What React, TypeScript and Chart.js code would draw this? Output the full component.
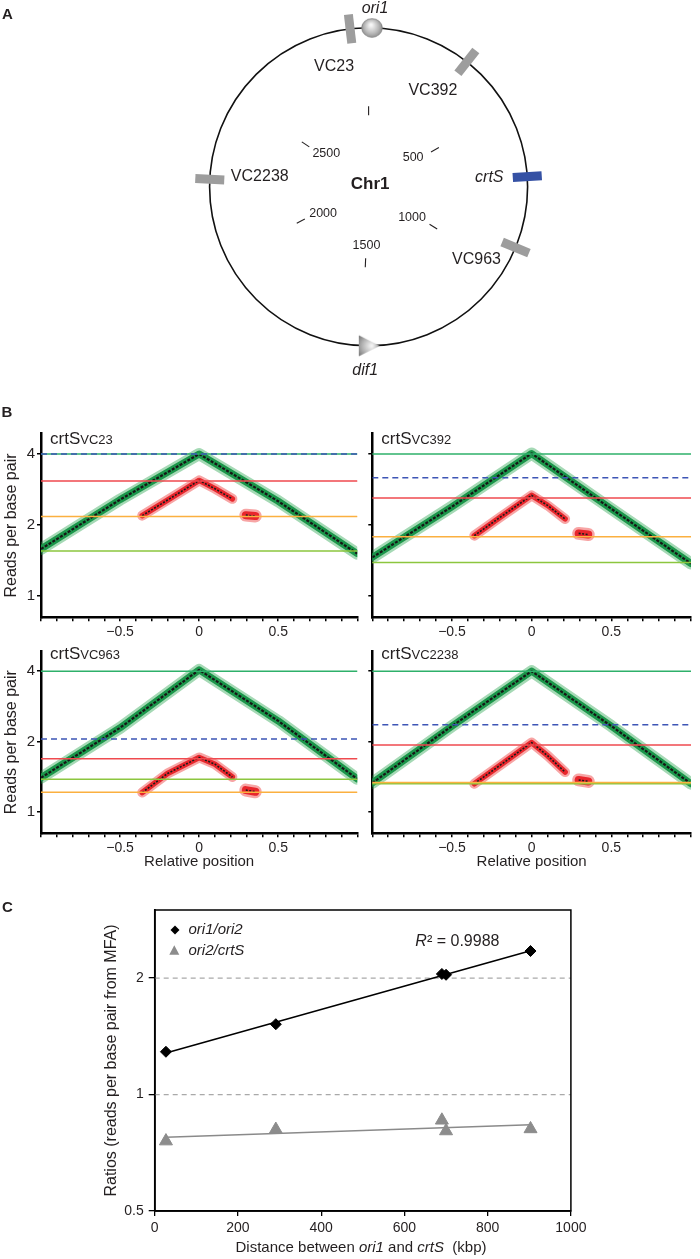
import React, { useEffect, useRef } from "react";
import { Chart, registerables } from "chart.js";

Chart.register(...registerables);

const FONT = "'Liberation Sans', Arial, Helvetica, sans-serif";
const INK = "#231f20";
Chart.defaults.font.family = FONT;
Chart.defaults.color = INK;

/* ================= Panel A: chromosome 1 map (data) ================= */
const genomeLengthKb = 2961;
const featureNames = ["VC23", "VC392", "crtS", "VC963", "VC2238"];
const featurePositionsKb = [2906, 314, 710, 925, 2243];
const ori1PositionKb = 10;
const dif1PositionKb = 1480;
const mapTickPositionsKb = [0, 500, 1000, 1500, 2000, 2500];
const mapTickLabels = ["", "500", "1000", "1500", "2000", "2500"];

/* ================= Panel B: marker frequency profiles (data) ================= */
const subplotNames = ["VC23", "VC392", "VC963", "VC2238"];
const relPositions = [-1, -0.5, 0, 0.5, 1];
const greenVC23 = [1.58, 2.56, 4.0, 2.52, 1.51];
const greenVC392 = [1.455, 2.39, 4.02, 2.34, 1.37];
const greenVC963 = [1.4, 2.29, 4.05, 2.45, 1.385];
const greenVC2238 = [1.33, 2.33, 4.0, 2.33, 1.32];
const redPositions = [-0.36, -0.2, 0, 0.1, 0.21];
const redVC23 = [2.19, 2.55, 3.09, 2.85, 2.58];
const redVC392 = [1.8, 2.15, 2.67, 2.42, 2.12];
const redVC963 = [1.21, 1.46, 1.71, 1.6, 1.41];
const redVC2238 = [1.32, 1.58, 1.98, 1.74, 1.48];
const redClusterPositions = [0.295, 0.355];
const redClusterVC23 = [2.2, 2.18];
const redClusterVC392 = [1.84, 1.82];
const redClusterVC963 = [1.24, 1.22];
const redClusterVC2238 = [1.37, 1.35];
const levelGreen = [4, 4, 4, 4];
const levelBlue = [4, 3.17, 2.05, 2.36];
const levelRed = [3.07, 2.6, 1.69, 1.935];
const levelOrange = [2.17, 1.78, 1.214, 1.335];
const levelLightGreen = [1.55, 1.385, 1.379, 1.32];
const bXTicks = [-1, -0.9, -0.8, -0.7, -0.6, -0.5, -0.4, -0.3, -0.2, -0.1, 0, 0.1, 0.2, 0.3, 0.4, 0.5, 0.6, 0.7, 0.8, 0.9, 1];
const bXLabelValues = [-0.5, 0, 0.5];
const bXLabelTexts = ["\u22120.5", "0", "0.5"];
const bYTicks = [1, 2, 4];

/* ================= Panel C: ratios vs distance (data) ================= */
const distanceKb = [27, 291, 690, 700, 903];
const ratioOri1Ori2 = [1.29, 1.52, 2.05, 2.04, 2.35];
const ratioOri2CrtS = [0.758, 0.812, 0.858, 0.805, 0.815];
const cXTicks = [0, 200, 400, 600, 800, 1000];
const cYTicks = [0.5, 1, 2];
const cYTickLabels = ["0.5", "1", "2"];
const cGuideLevels = [1, 2];
const rSquaredText = "0.9988";

/* ================= layout / style (not data) ================= */
const MAP = { width: 700, height: 395, cx: 368.6, cy: 186.8, r: 159 };
const innerTickRadius = 0.478;
const tickLabelRadiusX = 51 / 159;
const tickLabelRadiusY = 59 / 159;
const featureLabelOffsets = [[-16, 38], [-34, 29], [-38, 0.5], [-39, 12.5], [50, -2.5]];
const featureItalic = [false, false, true, false, false];
const featureColors = ["#9d9d9d", "#9d9d9d", "#3551a4", "#9d9d9d", "#9d9d9d"];

const profileGeom = [
  { left: 0, top: 400, width: 365, height: 240, aL: 41, aT: 433.7, aR: 357.3, aB: 617.3 },
  { left: 365, top: 400, width: 335, height: 240, aL: 372.3, aT: 433.7, aR: 691, aB: 617.3 },
  { left: 0, top: 640, width: 365, height: 235, aL: 41, aT: 649.7, aR: 357.3, aB: 833.3 },
  { left: 365, top: 640, width: 335, height: 235, aL: 372.3, aT: 649.7, aR: 691, aB: 833.3 },
];
const greenSeries = [greenVC23, greenVC392, greenVC963, greenVC2238];
const redSeries = [redVC23, redVC392, redVC963, redVC2238];
const redClusterSeries = [redClusterVC23, redClusterVC392, redClusterVC963, redClusterVC2238];

const C_GEOM = { left: 0, top: 895, width: 700, height: 364, aL: 154.7, aT: 910, aR: 570.9, aB: 1211 };

/* ================= helpers ================= */
function makeBar(color: string) {
  const c = document.createElement("canvas");
  c.width = 9;
  c.height = 29;
  const g = c.getContext("2d")!;
  g.fillStyle = color;
  g.fillRect(0, 0, 9, 29);
  return c;
}
function makeSphere() {
  const c = document.createElement("canvas");
  c.width = 22;
  c.height = 20;
  const g = c.getContext("2d")!;
  const grad = g.createRadialGradient(10, 7, 1, 11, 10, 12);
  grad.addColorStop(0, "#f6f6f6");
  grad.addColorStop(0.55, "#b9b9b9");
  grad.addColorStop(1, "#7c7c7c");
  g.fillStyle = grad;
  g.beginPath();
  g.ellipse(11, 10, 10.3, 9.3, 0, 0, Math.PI * 2);
  g.fill();
  g.strokeStyle = "#808080";
  g.lineWidth = 0.8;
  g.stroke();
  return c;
}
function makeTriangle() {
  const c = document.createElement("canvas");
  c.width = 24;
  c.height = 24;
  const g = c.getContext("2d")!;
  const grad = g.createRadialGradient(15, 12, 1, 12, 12, 13);
  grad.addColorStop(0, "#f2f2f2");
  grad.addColorStop(0.6, "#b0b0b0");
  grad.addColorStop(1, "#7d7d7d");
  g.fillStyle = grad;
  g.beginPath();
  g.moveTo(2, 1.5);
  g.lineTo(23, 12);
  g.lineTo(2, 22.5);
  g.closePath();
  g.fill();
  return c;
}
function drawParts(ctx: CanvasRenderingContext2D, parts: { t: string; f: string }[], cx: number, y: number) {
  let total = 0;
  for (const p of parts) {
    ctx.font = p.f;
    total += ctx.measureText(p.t).width;
  }
  let x = cx - total / 2;
  ctx.textAlign = "left";
  for (const p of parts) {
    ctx.font = p.f;
    ctx.fillText(p.t, x, y);
    x += ctx.measureText(p.t).width;
  }
}

/* ================= Panel A config ================= */
function makeMapConfig() {
  const { width, height, cx, cy, r } = MAP;
  const angleOf = (kb: number) => (kb / genomeLengthKb) * 360;
  const polar = (kb: number, rad: number) => {
    const t = (angleOf(kb) * Math.PI) / 180;
    return { x: rad * Math.sin(t), y: rad * Math.cos(t) };
  };
  const mapPlugin = {
    id: "mapDecor",
    beforeDatasetsDraw(chart: any) {
      const { ctx, scales } = chart;
      const x0 = scales.x.getPixelForValue(0);
      const y0 = scales.y.getPixelForValue(0);
      const rx = scales.x.getPixelForValue(1) - x0;
      const ry = y0 - scales.y.getPixelForValue(1);
      ctx.save();
      ctx.strokeStyle = "#111";
      ctx.lineWidth = 1.6;
      ctx.beginPath();
      ctx.ellipse(x0, y0, rx, ry, 0, 0, Math.PI * 2);
      ctx.stroke();
      ctx.restore();
    },
    afterDatasetsDraw(chart: any) {
      const { ctx, scales } = chart;
      const px = (p: { x: number; y: number }) => [scales.x.getPixelForValue(p.x), scales.y.getPixelForValue(p.y)];
      ctx.save();
      ctx.fillStyle = INK;
      ctx.textBaseline = "middle";
      ctx.textAlign = "center";
      featureNames.forEach((name, i) => {
        const [x, y] = px(polar(featurePositionsKb[i], 1));
        ctx.font = `${featureItalic[i] ? "italic " : ""}16px ${FONT}`;
        ctx.fillText(name, x + featureLabelOffsets[i][0], y + featureLabelOffsets[i][1]);
      });
      const [ox, oy] = px(polar(ori1PositionKb, 1));
      ctx.font = `italic 16px ${FONT}`;
      ctx.fillText("ori1", ox + 3, oy - 19.5);
      const [dx, dy] = px(polar(dif1PositionKb, 1));
      ctx.fillText("dif1", dx - 3.5, dy + 24.5);
      const [cx0, cy0] = px({ x: 0, y: 0 });
      ctx.font = `bold 17px ${FONT}`;
      ctx.fillText("Chr1", cx0 + 1.5, cy0 - 2.5);
      ctx.font = `12.5px ${FONT}`;
      mapTickPositionsKb.forEach((kb, i) => {
        if (!mapTickLabels[i]) return;
        const t = (angleOf(kb) * Math.PI) / 180;
        const [lx, ly] = px({ x: tickLabelRadiusX * Math.sin(t), y: tickLabelRadiusY * Math.cos(t) });
        ctx.fillText(mapTickLabels[i], lx, ly);
      });
      ctx.font = `bold 15px ${FONT}`;
      ctx.textAlign = "left";
      ctx.textBaseline = "alphabetic";
      ctx.fillText("A", 2, 18.5);
      ctx.restore();
    },
  };
  return {
    type: "scatter",
    data: {
      datasets: [
        {
          data: mapTickPositionsKb.map((kb) => polar(kb, innerTickRadius)),
          pointStyle: "line",
          pointRadius: 4.5,
          pointBorderWidth: 1.1,
          pointBorderColor: INK,
          pointRotation: mapTickPositionsKb.map((kb) => angleOf(kb) - 90),
          order: 3,
        },
        {
          data: featurePositionsKb.map((kb) => polar(kb, 1)),
          pointStyle: featureColors.map((c) => makeBar(c)),
          pointRadius: 6,
          pointRotation: featurePositionsKb.map((kb) => angleOf(kb)),
          order: 2,
        },
        { data: [polar(ori1PositionKb, 1)], pointStyle: makeSphere(), pointRadius: 6, order: 1 },
        { data: [polar(dif1PositionKb, 1)], pointStyle: makeTriangle(), pointRadius: 6, order: 1 },
      ],
    },
    options: {
      responsive: false,
      animation: false,
      devicePixelRatio: 1,
      events: [],
      layout: { padding: 0, autoPadding: false },
      plugins: { legend: { display: false }, tooltip: { enabled: false } },
      scales: {
        x: { type: "linear", display: false, min: -cx / r, max: (width - cx) / r },
        y: { type: "linear", display: false, min: -(height - cy) / r, max: cy / r },
      },
    },
    plugins: [mapPlugin],
  };
}

/* ================= Panel B config ================= */
function makeProfileConfig(i: number) {
  const g = profileGeom[i];
  const showY = i % 2 === 0;
  const showX = i >= 2;
  const pts = (xs: number[], ys: number[]) => xs.map((x, k) => ({ x, y: ys[k] }));
  const hline = (v: number) => [
    { x: -1, y: v },
    { x: 1, y: v },
  ];
  const line = (data: any[], color: string, width: number, order: number, dash: number[] = []) => ({
    type: "line",
    data,
    borderColor: color,
    borderWidth: width,
    borderDash: dash,
    pointRadius: 0,
    fill: false,
    tension: 0,
    order,
    borderCapStyle: dash.length ? "butt" : "round",
    borderJoinStyle: "round",
    clip: 0,
  });
  const green = pts(relPositions, greenSeries[i]);
  const red = pts(redPositions, redSeries[i]);
  const cluster = pts(redClusterPositions, redClusterSeries[i]);
  const titlePlugin = {
    id: "subTitle",
    afterDraw(chart: any) {
      const { ctx, chartArea } = chart;
      ctx.save();
      ctx.fillStyle = INK;
      ctx.textAlign = "left";
      ctx.textBaseline = "alphabetic";
      const x = chartArea.left + 9;
      const y = chartArea.top + (i < 2 ? 10 : 7.5);
      ctx.font = `17px ${FONT}`;
      ctx.fillText("crtS", x, y);
      const w = ctx.measureText("crtS").width;
      ctx.font = `13px ${FONT}`;
      ctx.fillText(subplotNames[i], x + w, y);
      if (i === 0) {
        ctx.font = `bold 15px ${FONT}`;
        ctx.fillText("B", 1.5, 16.7);
      }
      ctx.restore();
    },
  };
  const axisCommon = {
    grid: { drawOnChartArea: false, drawTicks: true, tickLength: 4, color: "#000", lineWidth: 1.5 },
    border: { display: true, color: "#000", width: 2.5 },
  };
  return {
    type: "line",
    data: {
      datasets: [
        line(green, "rgba(30,160,70,0.4)", 12, 60),
        line(green, "#1b964a", 7, 59),
        line(green, "#161616", 2.2, 58, [3, 1.5]),
        line(red, "rgba(235,40,40,0.42)", 10, 50),
        line(cluster, "rgba(235,40,40,0.42)", 13, 50),
        line(red, "#e8262c", 5.5, 49),
        line(cluster, "#e8262c", 8, 49),
        line(red, "#1b1b1b", 1.6, 48, [2, 1.5]),
        line(cluster, "#1b1b1b", 1.6, 48, [2, 1.5]),
        line(hline(levelLightGreen[i]), "#8cc63f", 1.5, 9),
        line(hline(levelOrange[i]), "#fbb040", 1.5, 8),
        line(hline(levelRed[i]), "#ef4a4f", 1.5, 7),
        line(hline(levelGreen[i]), "#2eb06a", 1.5, 6),
        line(hline(levelBlue[i]), "#3d55b5", 1.5, 5, [6, 4]),
      ],
    },
    options: {
      responsive: false,
      animation: false,
      devicePixelRatio: 1,
      events: [],
      layout: {
        autoPadding: false,
        padding: { left: 0, bottom: 0, top: g.aT - g.top, right: g.left + g.width - g.aR },
      },
      plugins: { legend: { display: false }, tooltip: { enabled: false } },
      scales: {
        x: {
          type: "linear",
          min: -1,
          max: 1,
          afterBuildTicks: (s: any) => {
            s.ticks = bXTicks.map((v) => ({ value: v }));
          },
          afterFit: (s: any) => {
            s.height = g.top + g.height - g.aB;
          },
          ticks: {
            autoSkip: false,
            maxRotation: 0,
            padding: 2,
            color: INK,
            font: { size: 14 },
            callback: (v: number) => {
              const k = bXLabelValues.findIndex((l) => Math.abs(l - v) < 1e-6);
              return k >= 0 ? bXLabelTexts[k] : "";
            },
          },
          title: showX
            ? { display: true, text: "Relative position", color: INK, font: { size: 15 }, padding: { top: 0, bottom: 4 } }
            : { display: false },
          ...axisCommon,
        },
        y: {
          type: "logarithmic",
          min: 0.81,
          max: 4.88,
          afterBuildTicks: (s: any) => {
            s.ticks = bYTicks.map((v) => ({ value: v }));
          },
          afterFit: (s: any) => {
            s.width = g.aL - g.left;
          },
          ticks: {
            autoSkip: false,
            padding: 2,
            color: INK,
            font: { size: 15 },
            callback: (v: number) => (showY ? String(v) : ""),
          },
          title: showY
            ? { display: true, text: "Reads per base pair", color: INK, font: { size: 16 }, padding: { top: 2, bottom: 0 } }
            : { display: false },
          ...axisCommon,
        },
      },
    },
    plugins: [titlePlugin],
  };
}

/* ================= Panel C config ================= */
function expFit(xs: number[], ys: number[]) {
  const n = xs.length;
  const ly = ys.map((v) => Math.log(v));
  const mx = xs.reduce((a, b) => a + b, 0) / n;
  const my = ly.reduce((a, b) => a + b, 0) / n;
  let sxy = 0;
  let sxx = 0;
  xs.forEach((x, k) => {
    sxy += (x - mx) * (ly[k] - my);
    sxx += (x - mx) * (x - mx);
  });
  const b = sxy / sxx;
  const a = my - b * mx;
  const x0 = Math.min(...xs);
  const x1 = Math.max(...xs);
  return [
    { x: x0, y: Math.exp(a + b * x0) },
    { x: x1, y: Math.exp(a + b * x1) },
  ];
}

function makeRatioConfig() {
  const g = C_GEOM;
  const pts = (xs: number[], ys: number[]) => xs.map((x, k) => ({ x, y: ys[k] }));
  const decor = {
    id: "ratioDecor",
    afterDraw(chart: any) {
      const { ctx, chartArea: a } = chart;
      ctx.save();
      ctx.strokeStyle = "#000";
      ctx.lineWidth = 1.5;
      ctx.strokeRect(a.left, a.top, a.right - a.left, a.bottom - a.top);
      // legend
      ctx.fillStyle = "#000";
      const lx = 175;
      const ly1 = 35;
      const ly2 = 55.7;
      ctx.beginPath();
      ctx.moveTo(lx, ly1 - 4.5);
      ctx.lineTo(lx + 4.5, ly1);
      ctx.lineTo(lx, ly1 + 4.5);
      ctx.lineTo(lx - 4.5, ly1);
      ctx.closePath();
      ctx.fill();
      ctx.fillStyle = "#8c8c8c";
      ctx.beginPath();
      ctx.moveTo(lx - 0.7, ly2 - 5.5);
      ctx.lineTo(lx - 0.7 + 5, ly2 + 4);
      ctx.lineTo(lx - 0.7 - 5, ly2 + 4);
      ctx.closePath();
      ctx.fill();
      ctx.fillStyle = INK;
      ctx.textBaseline = "middle";
      ctx.textAlign = "left";
      ctx.font = `italic 15px ${FONT}`;
      ctx.fillText("ori1/ori2", 188.5, ly1);
      ctx.fillText("ori2/crtS", 188.5, ly2);
      // R squared
      drawParts(
        ctx,
        [
          { t: "R", f: `italic 16px ${FONT}` },
          { t: "\u00b2 = " + rSquaredText, f: `16px ${FONT}` },
        ],
        457.4,
        46.7
      );
      // x title with italic gene names
      drawParts(
        ctx,
        [
          { t: "Distance between ", f: `15px ${FONT}` },
          { t: "ori1", f: `italic 15px ${FONT}` },
          { t: " and ", f: `15px ${FONT}` },
          { t: "crtS", f: `italic 15px ${FONT}` },
          { t: "  (kbp)", f: `15px ${FONT}` },
        ],
        361,
        353.3
      );
      ctx.font = `bold 15px ${FONT}`;
      ctx.textBaseline = "alphabetic";
      ctx.textAlign = "left";
      ctx.fillText("C", 2, 16.7);
      ctx.restore();
    },
  };
  const axisCommon = {
    grid: { drawOnChartArea: false, drawTicks: true, color: "#000", lineWidth: 1.3 },
    border: { display: true, color: "#000", width: 1.8 },
  };
  return {
    type: "scatter",
    data: {
      datasets: [
        ...cGuideLevels.map((lv) => ({
          data: [
            { x: 0, y: lv },
            { x: 1000, y: lv },
          ],
          showLine: true,
          borderColor: "#a9a9a9",
          borderWidth: 1.2,
          borderDash: [5, 4],
          pointRadius: 0,
          order: 20,
        })),
        { data: expFit(distanceKb, ratioOri1Ori2), showLine: true, borderColor: "#000", borderWidth: 1.6, pointRadius: 0, order: 10 },
        { data: expFit(distanceKb, ratioOri2CrtS), showLine: true, borderColor: "#8a8a8a", borderWidth: 1.6, pointRadius: 0, order: 11 },
        {
          data: pts(distanceKb, ratioOri1Ori2),
          pointStyle: "rectRot",
          pointRadius: 5.5,
          pointBackgroundColor: "#000",
          pointBorderColor: "#000",
          pointBorderWidth: 1,
          order: 1,
        },
        {
          data: pts(distanceKb, ratioOri2CrtS),
          pointStyle: "triangle",
          pointRadius: 7.5,
          pointBackgroundColor: "#8c8c8c",
          pointBorderColor: "#8c8c8c",
          pointBorderWidth: 1,
          order: 2,
        },
      ],
    },
    options: {
      responsive: false,
      animation: false,
      devicePixelRatio: 1,
      events: [],
      layout: {
        autoPadding: false,
        padding: { left: 100, bottom: 0, top: g.aT - g.top, right: g.left + g.width - g.aR },
      },
      plugins: { legend: { display: false }, tooltip: { enabled: false } },
      scales: {
        x: {
          type: "linear",
          min: 0,
          max: 1000,
          afterBuildTicks: (s: any) => {
            s.ticks = cXTicks.map((v) => ({ value: v }));
          },
          afterFit: (s: any) => {
            s.height = g.top + g.height - g.aB;
          },
          ticks: { autoSkip: false, maxRotation: 0, padding: 4, color: INK, font: { size: 14 }, callback: (v: number) => String(v) },
          ...axisCommon,
          grid: { ...axisCommon.grid, tickLength: 5 },
        },
        y: {
          type: "logarithmic",
          min: 0.5,
          max: 3,
          afterBuildTicks: (s: any) => {
            s.ticks = cYTicks.map((v) => ({ value: v }));
          },
          afterFit: (s: any) => {
            s.width = g.aL - g.left - 100;
          },
          ticks: {
            autoSkip: false,
            padding: 5,
            color: INK,
            font: { size: 14 },
            callback: (v: number) => {
              const k = cYTicks.findIndex((t) => Math.abs(t - v) < 1e-9);
              return k >= 0 ? cYTickLabels[k] : "";
            },
          },
          title: {
            display: true,
            text: "Ratios (reads per base pair from MFA)",
            color: INK,
            font: { size: 16 },
            padding: { top: 2.4, bottom: 0 },
          },
          ...axisCommon,
          grid: { ...axisCommon.grid, tickLength: 6 },
        },
      },
    },
    plugins: [decor],
  };
}

/* ================= components ================= */
function ChartCanvas(props: { left: number; top: number; width: number; height: number; make: () => any }) {
  const ref = useRef<HTMLCanvasElement | null>(null);
  useEffect(() => {
    if (!ref.current) return;
    const chart = new Chart(ref.current, props.make());
    return () => chart.destroy();
  }, []);
  return (
    <canvas
      ref={ref}
      width={props.width}
      height={props.height}
      style={{ position: "absolute", left: props.left, top: props.top, width: props.width, height: props.height }}
    />
  );
}

export default function App() {
  useEffect(() => {
    document.body.style.margin = "0";
  }, []);
  return (
    <div style={{ position: "absolute", left: 0, top: 0, width: 700, height: 1259, background: "#fff", overflow: "hidden" }}>
      <ChartCanvas left={0} top={0} width={MAP.width} height={MAP.height} make={makeMapConfig} />
      {profileGeom.map((g, i) => (
        <ChartCanvas key={i} left={g.left} top={g.top} width={g.width} height={g.height} make={() => makeProfileConfig(i)} />
      ))}
      <ChartCanvas left={C_GEOM.left} top={C_GEOM.top} width={C_GEOM.width} height={C_GEOM.height} make={makeRatioConfig} />
    </div>
  );
}
